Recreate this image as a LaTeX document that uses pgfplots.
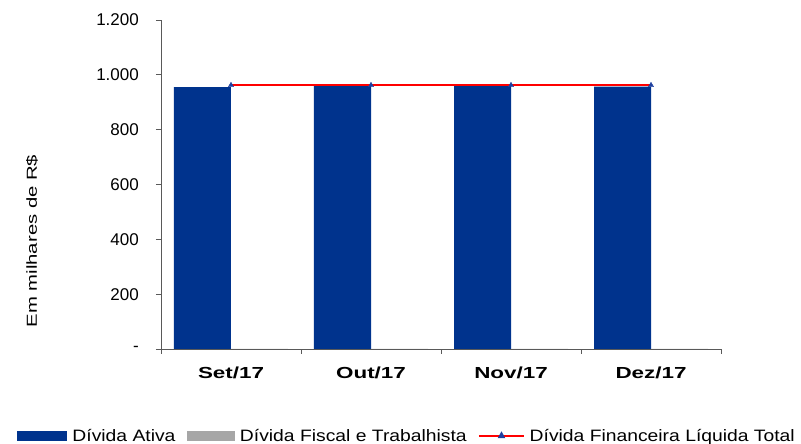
\documentclass[border=0pt]{standalone}
\usepackage{fontspec}
\setmainfont{Liberation Sans}
\newfontfamily\wideA[FakeStretch=1.17]{Liberation Sans}
\newfontfamily\wideB[FakeStretch=1.4]{Liberation Sans}
\usepackage{pgfplots}
\pgfplotsset{compat=1.18}
\definecolor{barblue}{RGB}{0,51,141}
\definecolor{bargray}{RGB}{166,166,166}
\definecolor{markblue}{RGB}{31,64,160}
\begin{document}
\begin{tikzpicture}
\useasboundingbox (0,0) rectangle (801pt,444pt);
\begin{axis}[
  at={(161pt,95pt)}, anchor=south west,
  scale only axis, width=560pt, height=329pt,
  xmin=-0.5, xmax=3.5, ymin=0, ymax=1200,
  axis x line*=bottom, axis y line*=left,
  axis line style={-, draw=black!65, line width=0.8pt},
  tick align=outside,
  xtick={0,1,2,3},
  xticklabels={Set/17,Out/17,Nov/17,Dez/17},
  major x tick style={draw=none},
  minor xtick={-0.5,0.5,1.5,2.5,3.5},
  minor tick length=5pt, major tick length=5pt,
  every tick/.style={draw=black!65, line width=0.8pt},
  ytick={0,200,400,600,800,1000,1200},
  yticklabels={-,200,400,600,800,1.000,1.200},
  /pgf/number format/assume math mode=true,
  yticklabel style={font=\fontsize{17}{19}\selectfont, inner sep=0pt, xshift=-17pt},
  xticklabel style={font=\wideB\bfseries\fontsize{16}{18}\selectfont, inner sep=0pt, yshift=-13pt},
  legend columns=3,
  legend style={draw=none, fill=none, at={(0.44,-0.264)}, anchor=center,
    font=\wideA\fontsize{16.5}{18}\selectfont,
    /tikz/every even column/.append style={column sep=9pt},
    inner sep=0pt, nodes={inner sep=2.5pt},
    /tikz/every odd column/.append style={column sep=2.5pt}},
]
\addplot[ybar, bar width=57pt, bar shift=-28.5pt, fill=barblue, draw=none,
  legend image code/.code={\fill[barblue] (0pt,-5pt) rectangle (50pt,5pt);}]
  coordinates {(0,955) (1,960) (2,960) (3,957)};
\addlegendentry{Dívida Ativa}
\addplot[ybar, bar width=57pt, bar shift=28.5pt, fill=bargray, draw=none,
  legend image code/.code={\fill[bargray] (0pt,-5pt) rectangle (48pt,5pt);}]
  coordinates {(0,0) (1,0) (2,0) (3,0)};
\addlegendentry{Dívida Fiscal e Trabalhista}
\addplot[red, line width=1.5pt, mark=triangle*, mark size=3pt,
  mark options={fill=markblue, draw=markblue, line width=0.4pt},
  legend image code/.code={\draw[red, line width=1.5pt] (0pt,0pt) -- (45pt,0pt);
    \fill[markblue] (22.5pt,3pt) -- (20pt,-1.5pt) -- (25pt,-1.5pt) -- cycle;}]
  coordinates {(0,962) (1,962) (2,962) (3,962)};
\addlegendentry{Dívida Financeira Líquida Total}
\end{axis}
\node[rotate=90, font=\wideB\fontsize{14.5}{16}\selectfont] at (32pt,203pt) {Em milhares de R\$};
\end{tikzpicture}
\end{document}
